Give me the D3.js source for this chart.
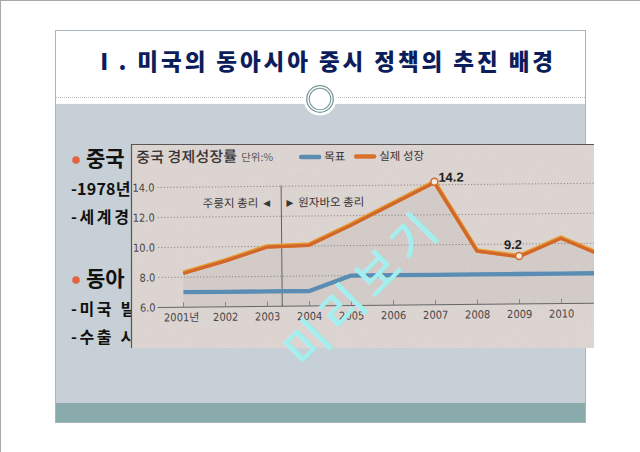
<!DOCTYPE html>
<html><head><meta charset="utf-8">
<script src="https://cdn.jsdelivr.net/npm/d3@7"></script>
<style>html,body{margin:0;padding:0;background:#fff;} svg{display:block;}</style>
</head><body>
<script>
// ---- data ----
const years = [2001, 2002, 2003, 2004, 2005, 2006, 2007, 2008, 2009, 2010, 2011];
const yearLabels = ["2001년", "2002", "2003", "2004", "2005", "2006", "2007", "2008", "2009", "2010", "2011"];
const targetGrowth = [7.0, 7.0, 7.0, 7.0, 8.0, 8.0, 8.0, 8.0, 8.0, 8.0, 8.0];
const actualGrowth = [8.3, 9.1, 10.0, 10.1, 11.4, 12.8, 14.2, 9.6, 9.2, 10.4, 9.2];
const yTicks = [6.0, 8.0, 10.0, 12.0, 14.0];
const seriesNames = ["목표", "실제 성장"];
const labelledYears = [2007, 2009];
const leaderChangeYear = 2003.35;
const leaderLabels = ["주룽지 총리 ◄", "► 원자바오 총리"];
const chartTitle = "중국 경제성장률";
const unitLabel = "단위:%";
const slideTitle = "Ⅰ. 미국의 동아시아 중시 정책의 추진 배경";
const slideLines = [
  {kind: "head", text: "중국", rest: "경제의 부상"},
  {kind: "sub", text: "-1978년 개혁개방 이후 고도성장", ls: 0.2},
  {kind: "sub", text: "-세계경제에서의 비중 확대", ls: 2.6},
  {kind: "gap", text: ""},
  {kind: "head", text: "동아", rest: "시아의 중요성"},
  {kind: "sub", text: "-미국 빌 금융위기 이후 회복 주도", ls: 2.6},
  {kind: "sub", text: "-수출 시장으로서 중요성 증대 및 협력 필요", ls: 2.6}
];
const watermark = "미리보기";

// ---- drawing ----
const W = 640, H = 452;
const KR = "'Noto Sans CJK KR','Noto Sans',sans-serif";
const NARROW = "'Liberation Sans Narrow','DejaVu Sans Condensed','Noto Sans CJK KR',sans-serif";
const svg = d3.select("body").append("svg").attr("width", W).attr("height", H);
const defs = svg.append("defs");

// outer border (top/left)
svg.append("line").attr("x1", 0).attr("x2", W).attr("y1", 0.5).attr("y2", 0.5).attr("stroke", "#a8a8a8");
svg.append("line").attr("x1", 0.5).attr("x2", 0.5).attr("y1", 0).attr("y2", H).attr("stroke", "#a8a8a8");

// slide panel
const P = {x: 56, y: 31, w: 529, h: 391};
svg.append("rect").attr("x", P.x).attr("y", P.y).attr("width", P.w).attr("height", P.h).attr("fill", "#fff");
svg.append("rect").attr("x", P.x).attr("y", 104).attr("width", P.w).attr("height", 299).attr("fill", "#c6d0d6");
svg.append("rect").attr("x", P.x).attr("y", 403).attr("width", P.w).attr("height", 19).attr("fill", "#8aabab");
svg.append("rect").attr("x", P.x - 0.5).attr("y", P.y - 0.5).attr("width", P.w + 1).attr("height", P.h + 1)
  .attr("fill", "none").attr("stroke", "#a7b6bd");
svg.append("line").attr("x1", P.x).attr("x2", P.x + P.w).attr("y1", 97.5).attr("y2", 97.5)
  .attr("stroke", "#aab2b8").attr("stroke-width", 0.8).attr("stroke-dasharray", "1,1");
svg.append("circle").attr("cx", 320).attr("cy", 99).attr("r", 16.5).attr("fill", "#fff");
svg.append("circle").attr("cx", 320).attr("cy", 99).attr("r", 13.3).attr("fill", "none").attr("stroke", "#7e9a9c").attr("stroke-width", 1.3);
svg.append("circle").attr("cx", 320).attr("cy", 99).attr("r", 10.8).attr("fill", "none").attr("stroke", "#7e9a9c").attr("stroke-width", 1.1);

// slide title
svg.append("text").attr("x", 93).attr("y", 70).text(slideTitle)
  .attr("font-family", KR).attr("font-weight", 900).attr("font-size", 22.5)
  .attr("fill", "#0c1d5b").attr("textLength", 460).attr("lengthAdjust", "spacing");

// slide bullet text (mostly hidden under the photo)
let ty = 162;
slideLines.forEach(l => {
  if (l.kind === "head") {
    svg.append("circle").attr("cx", 76).attr("cy", ty - 2).attr("r", 3.8).attr("fill", "#e0653f");
    const t = svg.append("text").attr("x", 86).attr("y", ty + 4)
      .attr("font-family", KR).attr("font-weight", 700).attr("font-size", 21).attr("fill", "#111");
    t.append("tspan").text(l.text);
    t.append("tspan").attr("dx", 10).text(l.rest);
    ty += 29;
  } else if (l.kind === "sub") {
    svg.append("text").attr("x", 71).attr("y", ty + 4).text(l.text)
      .attr("font-family", KR).attr("font-weight", 700).attr("font-size", 16).attr("letter-spacing", l.ls).attr("fill", "#111");
    ty += 28;
  } else {
    ty += 35;
  }
});

// ---- newspaper chart photo ----
const PH = {x: 131, y: 144, w: 463, h: 204};
defs.append("clipPath").attr("id", "photoClip").append("rect")
  .attr("x", PH.x).attr("y", PH.y).attr("width", PH.w).attr("height", PH.h);
const f = defs.append("filter").attr("id", "grain").attr("x", 0).attr("y", 0).attr("width", 1).attr("height", 1);
f.append("feTurbulence").attr("type", "fractalNoise").attr("baseFrequency", 0.9).attr("numOctaves", 2).attr("seed", 3);
f.append("feColorMatrix").attr("type", "matrix")
  .attr("values", "0 0 0 0 0.4  0 0 0 0 0.36  0 0 0 0 0.35  0 0 0 -1.4 0.75");

const photo = svg.append("g").attr("clip-path", "url(#photoClip)");
photo.append("rect").attr("x", PH.x).attr("y", PH.y).attr("width", PH.w).attr("height", PH.h).attr("fill", "#dcd5d2");
photo.append("rect").attr("x", PH.x).attr("y", PH.y).attr("width", PH.w).attr("height", PH.h).attr("filter", "url(#grain)").attr("opacity", 0.22);

const g = photo.append("g").attr("transform", "rotate(-0.55,362,246)");
const x = d3.scaleLinear().domain([2001, 2010]).range([183, 561]);
const y = d3.scaleLinear().domain([6, 14]).range([305.5, 185.5]);
const base = y(6);
const rightEdge = PH.x + PH.w;

// area under actual
g.append("path").datum(years.map((yr, i) => [yr, actualGrowth[i]]))
  .attr("d", d3.area().x(d => x(d[0])).y0(base).y1(d => y(d[1])))
  .attr("fill", "rgba(100,85,85,0.07)");

// gridlines + baseline
yTicks.forEach(t => {
  if (t === 6) {
    g.append("line").attr("x1", 157).attr("x2", 610).attr("y1", y(t)).attr("y2", y(t)).attr("stroke", "#666").attr("stroke-width", 1);
  } else {
    g.append("line").attr("x1", 158).attr("x2", 610).attr("y1", y(t)).attr("y2", y(t))
      .attr("stroke", "#7a7474").attr("stroke-width", 0.8).attr("stroke-dasharray", "1.2,2");
  }
  g.append("text").attr("x", 155).attr("y", y(t) + 4).attr("text-anchor", "end").text(d3.format(".1f")(t))
    .attr("font-family", NARROW).attr("font-size", 11).attr("fill", "#4a4646");
});
// x ticks & labels (labels that fall past the photo's cut edge are not printed)
years.forEach((yr, i) => {
  g.append("line").attr("x1", x(yr)).attr("x2", x(yr)).attr("y1", base).attr("y2", base - 5).attr("stroke", "#777").attr("stroke-width", 0.8);
  if (x(yr) + 12 < rightEdge) {
    g.append("text").attr("x", x(yr) - (i === 0 ? 2 : 0)).attr("y", base + 14).attr("text-anchor", "middle").text(yearLabels[i])
      .attr("font-family", NARROW).attr("font-size", 11).attr("fill", "#4a4646");
  }
});

// leader divider
const dx = x(leaderChangeYear);
g.append("line").attr("x1", dx).attr("x2", dx).attr("y1", y(14.05)).attr("y2", base).attr("stroke", "#555").attr("stroke-width", 0.9);
g.append("text").attr("x", dx - 9).attr("y", 206).attr("text-anchor", "end").text(leaderLabels[0])
  .attr("font-family", KR).attr("font-size", 11.5).attr("fill", "#3a3636");
g.append("text").attr("x", dx + 3).attr("y", 206).text(leaderLabels[1])
  .attr("font-family", KR).attr("font-size", 11.5).attr("fill", "#3a3636");

// series lines
const line = d3.line().x(d => x(d[0])).y(d => y(d[1]));
g.append("path").datum(years.map((yr, i) => [yr, targetGrowth[i]])).attr("d", line)
  .attr("fill", "none").attr("stroke", "#5a8cb4").attr("stroke-width", 4.3).attr("stroke-linejoin", "round");
const act = years.map((yr, i) => [yr, actualGrowth[i]]);
g.append("path").datum(act).attr("d", line)
  .attr("fill", "none").attr("stroke", "#e59e36").attr("stroke-width", 4.5).attr("stroke-linejoin", "round");
g.append("path").datum(act).attr("d", line).attr("transform", "translate(0,0.8)")
  .attr("fill", "none").attr("stroke", "#d3662a").attr("stroke-width", 3.2).attr("stroke-linejoin", "round");

// labelled points
labelledYears.forEach((yr, k) => {
  const v = actualGrowth[years.indexOf(yr)];
  const mx = x(yr), my = y(v);
  g.append("circle").attr("cx", mx).attr("cy", my).attr("r", 3.5).attr("fill", "#f2e8de").attr("stroke", "#d06a2a").attr("stroke-width", 1.5);
  const t = g.append("text").text(d3.format(".1f")(v)).attr("font-family", "'Liberation Sans','Noto Sans',sans-serif")
    .attr("font-weight", 700).attr("font-size", 13).attr("fill", "#222");
  if (k === 0) t.attr("x", mx + 4).attr("y", my);
  else t.attr("x", mx - 6).attr("y", my - 7).attr("text-anchor", "middle");
});

// chart title & legend
g.append("text").attr("x", 137).attr("y", 160.5).text(chartTitle)
  .attr("font-family", KR).attr("font-weight", 500).attr("font-size", 15).attr("fill", "#363232")
  .attr("textLength", 101).attr("lengthAdjust", "spacing");
g.append("text").attr("x", 242).attr("y", 160).text(unitLabel)
  .attr("font-family", KR).attr("font-size", 10.5).attr("fill", "#555");
const legendColors = ["#5b8db3", "#d9712c"];
const legendX = [302, 357];
seriesNames.forEach((n, i) => {
  g.append("line").attr("x1", legendX[i]).attr("x2", legendX[i] + 18).attr("y1", 156.5).attr("y2", 156.5)
    .attr("stroke", legendColors[i]).attr("stroke-width", 4.5).attr("stroke-linecap", "round");
  g.append("text").attr("x", legendX[i] + 23).attr("y", 160.5).text(n)
    .attr("font-family", KR).attr("font-size", 11.5).attr("fill", "#3a3636");
});

// photo edges
svg.append("line").attr("x1", PH.x).attr("x2", PH.x + PH.w).attr("y1", PH.y + 0.5).attr("y2", PH.y + 0.5).attr("stroke", "#5a5656").attr("stroke-width", 1.2);
svg.append("line").attr("x1", PH.x + 0.5).attr("x2", PH.x + 0.5).attr("y1", PH.y).attr("y2", PH.y + PH.h).attr("stroke", "#5a5656").attr("stroke-width", 1.2);

// watermark
const chars = Array.from(watermark);
const wc = [358, 288], step = 50, ang = -45 * Math.PI / 180;
chars.forEach((c, i) => {
  const o = (i - (chars.length - 1) / 2) * step;
  const cx = wc[0] + o * Math.cos(ang), cy = wc[1] + o * Math.sin(ang);
  svg.append("text").attr("x", cx).attr("y", cy)
    .attr("text-anchor", "middle").attr("dominant-baseline", "central")
    .attr("transform", `rotate(-45,${cx},${cy})`)
    .text(c).attr("font-family", KR).attr("font-weight", 500).attr("font-size", 46).attr("fill", "#a3eff0");
});
</script>
</body></html>
